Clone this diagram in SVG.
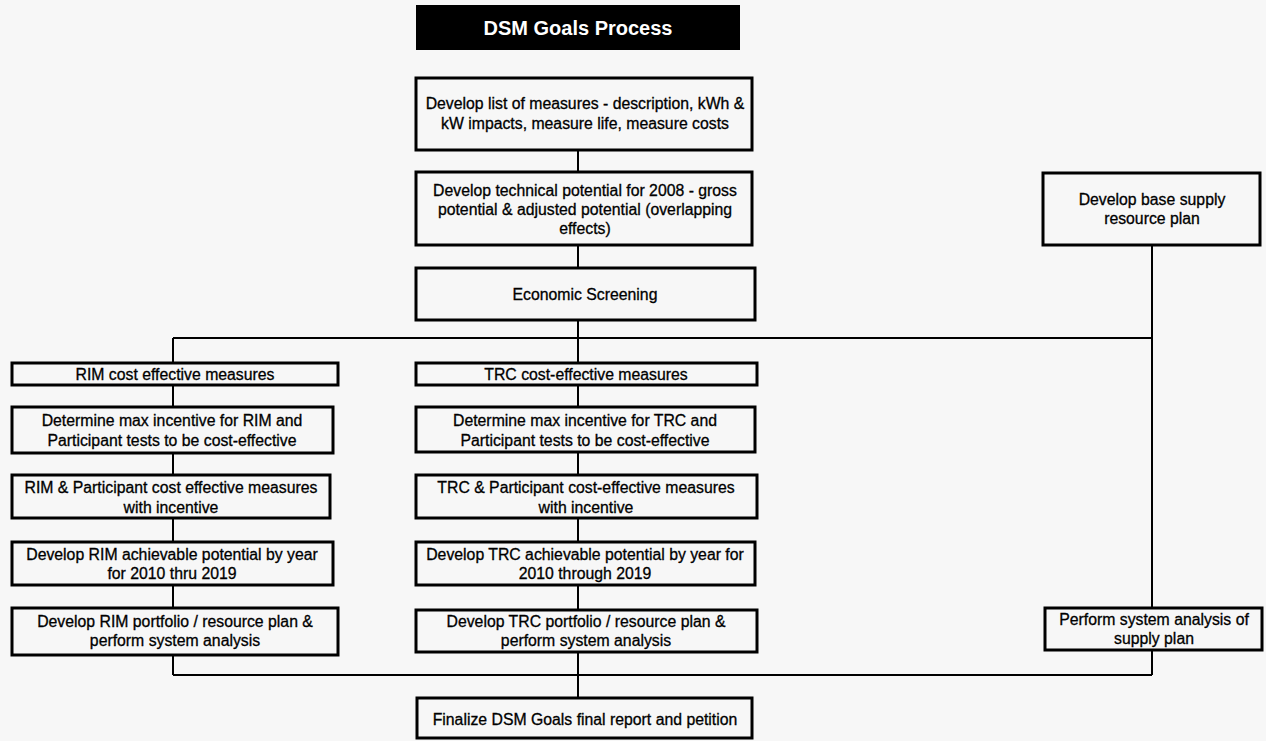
<svg xmlns="http://www.w3.org/2000/svg" width="1266" height="741" viewBox="0 0 1266 741">
<style>
.bg{fill:#f7f7f7}
.box{fill:#f7f7f7;stroke:#000;stroke-width:3}
.t{font-family:"Liberation Sans",Arial,sans-serif;font-size:15.8px;fill:#000;stroke:#000;stroke-width:0.3;text-anchor:middle}
.title{font-family:"Liberation Sans",Arial,sans-serif;font-size:20px;font-weight:bold;fill:#fff;text-anchor:middle}
.c{fill:none;stroke:#000;stroke-width:2}
</style>
<rect class="bg" x="0" y="0" width="1266" height="741"/>
<g id="connectors">
<path class="c" d="M578 150V172M578 245V268M578 320V363M578 385V407M578 452V475M578 518V542M578 585V610M578 652V698"/>
<path class="c" d="M173 338V363M173 385V407M173 453V475M173 518V542M173 585V608M173 655V675"/>
<path class="c" d="M1152 245V608M1152 650V675"/>
<path class="c" d="M173 338H1152M173 675H1152"/>
</g>
<g id="title"><rect x="416" y="5" width="324" height="45" fill="#000"/><text class="title" x="578" y="35">DSM Goals Process</text></g>
<g id="n1"><rect class="box" x="416" y="78" width="336" height="72"/><text class="t" x="585" y="109">Develop list of measures - description, kWh &amp;</text><text class="t" x="585" y="129">kW impacts, measure life, measure costs</text></g>
<g id="n2"><rect class="box" x="416" y="172" width="336" height="73"/><text class="t" x="585" y="196">Develop technical potential for 2008 - gross</text><text class="t" x="585" y="215">potential &amp; adjusted potential (overlapping</text><text class="t" x="585" y="234">effects)</text></g>
<g id="n3"><rect class="box" x="416" y="268" width="339" height="52"/><text class="t" x="585" y="300">Economic Screening</text></g>
<g id="n4"><rect class="box" x="12" y="363" width="326" height="22"/><text class="t" x="175" y="380">RIM cost effective measures</text></g>
<g id="n5"><rect class="box" x="416" y="363" width="341" height="22"/><text class="t" x="586" y="380">TRC cost-effective measures</text></g>
<g id="n6"><rect class="box" x="12" y="407" width="321" height="46"/><text class="t" x="172" y="426">Determine max incentive for RIM and</text><text class="t" x="172" y="446">Participant tests to be cost-effective</text></g>
<g id="n7"><rect class="box" x="416" y="407" width="339" height="45"/><text class="t" x="585" y="426">Determine max incentive for TRC and</text><text class="t" x="585" y="446">Participant tests to be cost-effective</text></g>
<g id="n8"><rect class="box" x="12" y="475" width="318" height="43"/><text class="t" x="171" y="493">RIM &amp; Participant cost effective measures</text><text class="t" x="171" y="513">with incentive</text></g>
<g id="n9"><rect class="box" x="416" y="475" width="341" height="43"/><text class="t" x="586" y="493">TRC &amp; Participant cost-effective measures</text><text class="t" x="586" y="513">with incentive</text></g>
<g id="n10"><rect class="box" x="12" y="542" width="321" height="43"/><text class="t" x="172" y="560">Develop RIM achievable potential  by year</text><text class="t" x="172" y="579">for 2010 thru 2019</text></g>
<g id="n11"><rect class="box" x="416" y="542" width="339" height="43"/><text class="t" x="585" y="560">Develop TRC achievable potential by year for</text><text class="t" x="585" y="579">2010 through 2019</text></g>
<g id="n12"><rect class="box" x="12" y="608" width="326" height="47"/><text class="t" x="175" y="627">Develop RIM portfolio / resource plan &amp;</text><text class="t" x="175" y="646">perform system analysis</text></g>
<g id="n13"><rect class="box" x="416" y="610" width="341" height="42"/><text class="t" x="586" y="627">Develop TRC portfolio / resource plan &amp;</text><text class="t" x="586" y="646">perform system analysis</text></g>
<g id="n14"><rect class="box" x="1043" y="173" width="217" height="72"/><text class="t" x="1152" y="205">Develop base supply</text><text class="t" x="1152" y="224">resource plan</text></g>
<g id="n15"><rect class="box" x="1045" y="608" width="217" height="42"/><text class="t" x="1154" y="625">Perform system analysis of</text><text class="t" x="1154" y="644">supply plan</text></g>
<g id="n16"><rect class="box" x="417" y="698" width="335" height="40"/><text class="t" x="585" y="725">Finalize DSM Goals final report and petition</text></g>
</svg>
